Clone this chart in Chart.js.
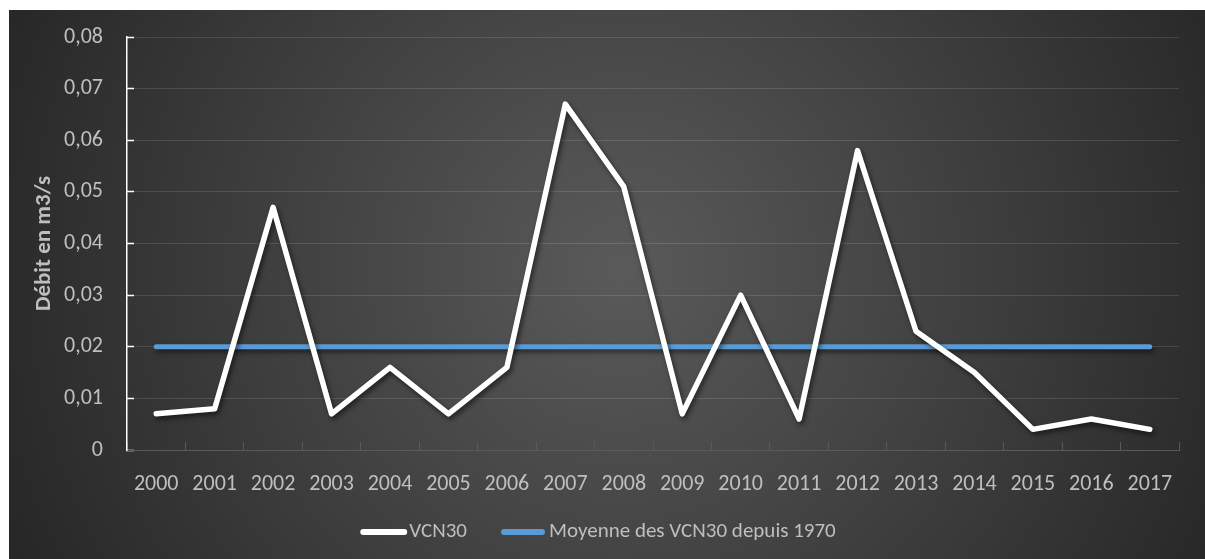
<!DOCTYPE html>
<html><head><meta charset="utf-8">
<script src="https://cdn.jsdelivr.net/npm/chart.js@4/dist/chart.umd.min.js"></script>
<style>html,body{margin:0;padding:0;background:#fff;overflow:hidden}</style>
</head><body>
<canvas id="c" width="1205" height="559" style="display:block;width:1205px;height:559px"></canvas>
<script>
const years = ['2000','2001','2002','2003','2004','2005','2006','2007','2008','2009','2010','2011','2012','2013','2014','2015','2016','2017'];
const vcn30 = [0.007,0.008,0.047,0.007,0.016,0.007,0.016,0.067,0.051,0.007,0.030,0.006,0.058,0.023,0.015,0.004,0.006,0.004];
const moyenne = [0.02,0.02,0.02,0.02,0.02,0.02,0.02,0.02,0.02,0.02,0.02,0.02,0.02,0.02,0.02,0.02,0.02,0.02];
const yTickLabels = ['0','0,01','0,02','0,03','0,04','0,05','0,06','0,07','0,08'];
const seriesNames = ['VCN30','Moyenne des VCN30 depuis 1970'];
const seriesColors = ['#ffffff','#5b9bd5'];
const yTitle = 'Débit en m3/s';

const FONT = "Carlito, Lato, 'Open Sans', sans-serif";
const LABEL = '#bfbfbf';

const bgPlugin = {
  id: 'bg',
  beforeDraw(chart) {
    const ctx = chart.ctx;
    ctx.save();
    ctx.fillStyle = '#ffffff';
    ctx.fillRect(0, 0, chart.width, chart.height);
    const g = ctx.createRadialGradient(620, 270, 0, 620, 270, 680);
    g.addColorStop(0, '#5a5a5a');
    g.addColorStop(1, '#262626');
    ctx.fillStyle = g;
    ctx.fillRect(9, 10, chart.width - 9, chart.height - 10);
    ctx.restore();
  }
};

const shadowPlugin = {
  id: 'shadow',
  beforeDatasetDraw(chart) {
    const ctx = chart.ctx;
    ctx.save();
    ctx.shadowColor = 'rgba(0,0,0,0.55)';
    ctx.shadowBlur = 5;
    ctx.shadowOffsetX = 2;
    ctx.shadowOffsetY = 3;
  },
  afterDatasetDraw(chart) {
    chart.ctx.restore();
  }
};

const legendPlugin = {
  id: 'customLegend',
  afterDraw(chart) {
    const ctx = chart.ctx;
    ctx.save();
    ctx.font = '21px ' + FONT;
    const lineLens = [47, 44];
    const gaps = [2, 4];
    const itemGap = 34;
    const widths = chart.data.datasets.map(d => ctx.measureText(d.label).width);
    let total = 0;
    widths.forEach((w, i) => { total += lineLens[i] + gaps[i] + w; });
    total += itemGap * (widths.length - 1);
    let x = 598 - total / 2;
    const y = 532;
    chart.data.datasets.forEach((d, i) => {
      ctx.strokeStyle = d.borderColor;
      ctx.lineWidth = 6;
      ctx.lineCap = 'round';
      ctx.beginPath();
      ctx.moveTo(x + 3, y);
      ctx.lineTo(x + lineLens[i] - 3, y);
      ctx.stroke();
      x += lineLens[i] + gaps[i];
      ctx.fillStyle = LABEL;
      ctx.textAlign = 'left';
      ctx.textBaseline = 'middle';
      ctx.fillText(d.label, x, y);
      x += widths[i] + itemGap;
    });
    ctx.restore();
  }
};

new Chart(document.getElementById('c'), {
  type: 'line',
  data: {
    labels: years,
    datasets: [
      { label: seriesNames[0], data: vcn30, borderColor: seriesColors[0], borderWidth: 5.5, pointRadius: 0, borderCapStyle: 'round', borderJoinStyle: 'round', tension: 0 },
      { label: seriesNames[1], data: moyenne, borderColor: seriesColors[1], borderWidth: 5, pointRadius: 0, borderCapStyle: 'round', tension: 0 }
    ]
  },
  options: {
    responsive: false,
    animation: false,
    devicePixelRatio: 1,
    layout: { padding: { left: 0, top: 37, right: 26, bottom: 0 } },
    plugins: { legend: { display: false }, tooltip: { enabled: false } },
    scales: {
      x: {
        offset: true,
        grid: { display: true, offset: true, drawOnChartArea: false, drawTicks: true, tickLength: -8, tickColor: '#5a5a5a', tickWidth: 1 },
        border: { color: '#5a5a5a', width: 1 },
        ticks: { color: LABEL, font: { family: FONT, size: 22 }, padding: 29, maxRotation: 0, autoSkip: false },
        afterFit(scale) { scale.height = 109; scale.paddingLeft = 0; scale.paddingRight = 0; }
      },
      y: {
        min: 0, max: 0.08,
        ticks: {
          stepSize: 0.01,
          color: LABEL,
          font: { family: FONT, size: 22 },
          padding: 31,
          callback: (v, i) => yTickLabels[i]
        },
        grid: { color: 'rgba(255,255,255,0.12)', lineWidth: 1, drawTicks: true, tickLength: -7, tickColor: '#ffffff', tickWidth: 1.5 },
        border: { color: '#ffffff', width: 1.5 },
        title: { display: true, text: yTitle, color: LABEL, font: { family: FONT, size: 23, weight: 'bold' }, padding: { top: 30, bottom: 0 } },
        afterFit(scale) { scale.width = 127; scale.paddingTop = 0; scale.paddingBottom = 0; }
      }
    }
  },
  plugins: [bgPlugin, shadowPlugin, legendPlugin]
});
</script>
</body></html>
